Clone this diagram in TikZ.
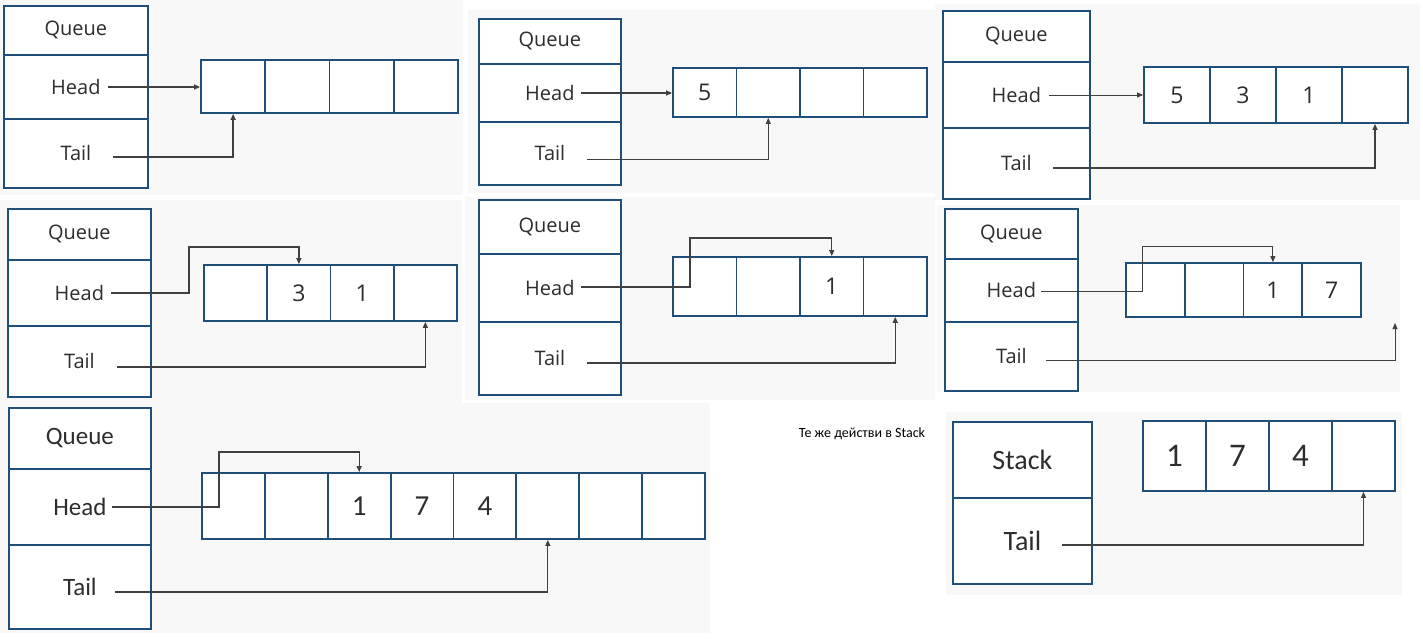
\documentclass[tikz,border=0pt]{standalone}
\usepackage{fontspec}
\setmainfont{Open Sans}
\newfontfamily\narrowfont{Carlito}
\usetikzlibrary{arrows.meta}
\definecolor{boxblue}{RGB}{31,78,121}
\definecolor{argray}{RGB}{64,64,64}
\definecolor{txtgray}{RGB}{45,45,45}
\definecolor{panelbg}{RGB}{248,248,248}
\tikzset{
  sect/.style={draw=boxblue, line width=1.8pt, fill=white, inner sep=0pt, anchor=north west,
    text=txtgray, font=\fontsize{20}{20}\selectfont},
  nsect/.style={sect, font=\narrowfont\fontsize{25}{25}\selectfont},
  cell/.style={draw=boxblue, line width=1.8pt, inner sep=0pt,
    text=txtgray, font=\fontsize{23}{23}\selectfont},
  ncell/.style={cell, font=\narrowfont\fontsize{29}{29}\selectfont},
  arr/.style={draw=argray, line width=1.3pt, -{Triangle[length=6pt,width=5pt]}},
  thinarr/.style={arr, line width=0.9pt},
  panel/.style={fill=panelbg, draw=none},
}
\begin{document}
\begin{tikzpicture}[x=1pt,y=-1pt]
\useasboundingbox (0,0) rectangle (1423,638);
\fill[white] (0,0) rectangle (1423,638);
% panel backgrounds
\fill[panel] (0,0) rectangle (463,195);
\fill[panel] (468,10) rectangle (937,193);
\fill[panel] (935,4) rectangle (1420,200);
\fill[panel] (0,200) rectangle (462,405);
\fill[panel] (465,197) rectangle (935,400);
\fill[panel] (937,205) rectangle (1400,392);
\fill[panel] (0,403) rectangle (710,633);
\fill[panel] (946,412) rectangle (1402,595);
% white insides of the arrays
\fill[white] (201,60) rectangle (458,113);
\fill[white] (673,68) rectangle (927,117);
\fill[white] (1144,67) rectangle (1408,123);
\fill[white] (204,265) rectangle (457,321);
\fill[white] (673,257) rectangle (927,316);
\fill[white] (1126,263) rectangle (1361,317);
\fill[white] (202,473) rectangle (705,539);
\fill[white] (1143,421) rectangle (1395,491);

% ---------- Panel 1
\node[sect, minimum width=144pt, minimum height=49pt] (p1q) at (3,5) {Queue};
\node[sect, minimum width=144pt, minimum height=64pt] (p1h) at (3,54) {Head};
\node[sect, minimum width=144pt, minimum height=69pt] (p1t) at (3,118) {Tail};
\foreach \i/\v in {1/,2/,3/,4/}
  \node[cell, minimum width=64.25pt, minimum height=53pt] (p1c\i) at ({201+(\i-0.5)*64.25},86.5) {\v};
\coordinate (p1hs) at (108,87);
\coordinate (p1ts) at (113,157);
\draw[arr] (p1hs) -- (p1hs -| p1c1.west);
\draw[arr] (p1ts) -| (p1c1.south);

% ---------- Panel 2
\node[sect, minimum width=142pt, minimum height=45pt] (p2q) at (478,18) {Queue};
\node[sect, minimum width=142pt, minimum height=58pt] (p2h) at (478,63) {Head};
\node[sect, minimum width=142pt, minimum height=63pt] (p2t) at (478,121) {Tail};
\foreach \i/\v in {1/5,2/,3/,4/}
  \node[cell, minimum width=63.5pt, minimum height=49pt] (p2c\i) at ({673+(\i-0.5)*63.5},92.5) {\v};
\coordinate (p2hs) at (581,93);
\coordinate (p2ts) at (587,159);
\draw[arr] (p2hs) -- (p2hs -| p2c1.west);
\draw[thinarr] (p2ts) -| (p2c2.south);

% ---------- Panel 3
\node[sect, minimum width=147pt, minimum height=51pt] (p3q) at (942,10) {Queue};
\node[sect, minimum width=147pt, minimum height=66pt] (p3h) at (942,61) {Head};
\node[sect, minimum width=147pt, minimum height=71pt] (p3t) at (942,127) {Tail};
\foreach \i/\v in {1/5,2/3,3/1,4/}
  \node[cell, minimum width=66pt, minimum height=56pt] (p3c\i) at ({1144+(\i-0.5)*66},95) {\v};
\coordinate (p3hs) at (1049,95);
\coordinate (p3ts) at (1053,168);
\draw[thinarr] (p3hs) -- (p3hs -| p3c1.west);
\draw[arr] (p3ts) -| (p3c4.south);

% ---------- Panel 4
\node[sect, minimum width=143pt, minimum height=51pt] (p4q) at (7,208) {Queue};
\node[sect, minimum width=143pt, minimum height=66pt] (p4h) at (7,259) {Head};
\node[sect, minimum width=143pt, minimum height=71pt] (p4t) at (7,325) {Tail};
\foreach \i/\v in {1/,2/3,3/1,4/}
  \node[cell, minimum width=63.25pt, minimum height=56pt] (p4c\i) at ({204+(\i-0.5)*63.25},293) {\v};
\coordinate (p4hs) at (111,293);
\coordinate (p4hk) at (189,247);
\coordinate (p4ts) at (117,367);
\draw[arr] (p4hs) -| (p4hk) -| (p4c2.north);
\draw[arr] (p4ts) -| (p4c4.south);

% ---------- Panel 5
\node[sect, minimum width=142pt, minimum height=54pt] (p5q) at (478,199) {Queue};
\node[sect, minimum width=142pt, minimum height=68pt] (p5h) at (478,253) {Head};
\node[sect, minimum width=142pt, minimum height=73pt] (p5t) at (478,321) {Tail};
\foreach \i/\v in {1/,2/,3/1,4/}
  \node[cell, minimum width=63.5pt, minimum height=59pt] (p5c\i) at ({673+(\i-0.5)*63.5},286.5) {\v};
\coordinate (p5hs) at (581,287);
\coordinate (p5hk) at (690,238);
\coordinate (p5ts) at (587,363);
\draw[arr] (p5hs) -| (p5hk) -| (p5c3.north);
\draw[arr] (p5ts) -| (p5c4.south);

% ---------- Panel 6
\node[sect, minimum width=133pt, minimum height=50pt] (p6q) at (944,208) {Queue};
\node[sect, minimum width=133pt, minimum height=63pt] (p6h) at (944,258) {Head};
\node[sect, minimum width=133pt, minimum height=69pt] (p6t) at (944,321) {Tail};
\foreach \i/\v in {1/,2/,3/1,4/7}
  \node[cell, minimum width=58.75pt, minimum height=54pt] (p6c\i) at ({1126+(\i-0.5)*58.75},290) {\v};
\coordinate (p6hs) at (1041,291);
\coordinate (p6hk) at (1142,246);
\coordinate (p6ts) at (1046,360);
\coordinate (p6te) at (1395,323);
\draw[thinarr] (p6hs) -| (p6hk) -| (p6c3.north);
\draw[thinarr] (p6ts) -| (p6te);

% ---------- Panel 7
\node[nsect, minimum width=142pt, minimum height=61pt] (p7q) at (8,407) {Queue};
\node[nsect, minimum width=142pt, minimum height=76pt] (p7h) at (8,468) {Head};
\node[nsect, minimum width=142pt, minimum height=84pt] (p7t) at (8,544) {Tail};
\foreach \i/\v in {1/,2/,3/1,4/7,5/4,6/,7/,8/}
  \node[ncell, minimum width=62.875pt, minimum height=66pt] (p7c\i) at ({202+(\i-0.5)*62.875},506) {\v};
\coordinate (p7hs) at (112,507);
\coordinate (p7hk) at (219,452);
\coordinate (p7ts) at (115,592);
\draw[arr] (p7hs) -| (p7hk) -| (p7c3.north);
\draw[arr] (p7ts) -| (p7c6.south);

% ---------- Panel 8
\node[text=black, font=\narrowfont\fontsize{14}{14}\selectfont] (note) at (862,434) {Те же действи в Stack};
\node[nsect, minimum width=139pt, minimum height=76pt, font=\narrowfont\fontsize{28}{28}\selectfont] (p8s) at (952,421) {Stack};
\node[nsect, minimum width=139pt, minimum height=86pt, font=\narrowfont\fontsize{28}{28}\selectfont] (p8t) at (952,497) {Tail};
\foreach \i/\v in {1/1,2/7,3/4,4/}
  \node[ncell, minimum width=63pt, minimum height=70pt, font=\narrowfont\fontsize{33}{33}\selectfont] (p8c\i) at ({1143+(\i-0.5)*63},456) {\v};
\coordinate (p8ts) at (1062,545);
\draw[arr] (p8ts) -| (p8c4.south);
\end{tikzpicture}
\end{document}
